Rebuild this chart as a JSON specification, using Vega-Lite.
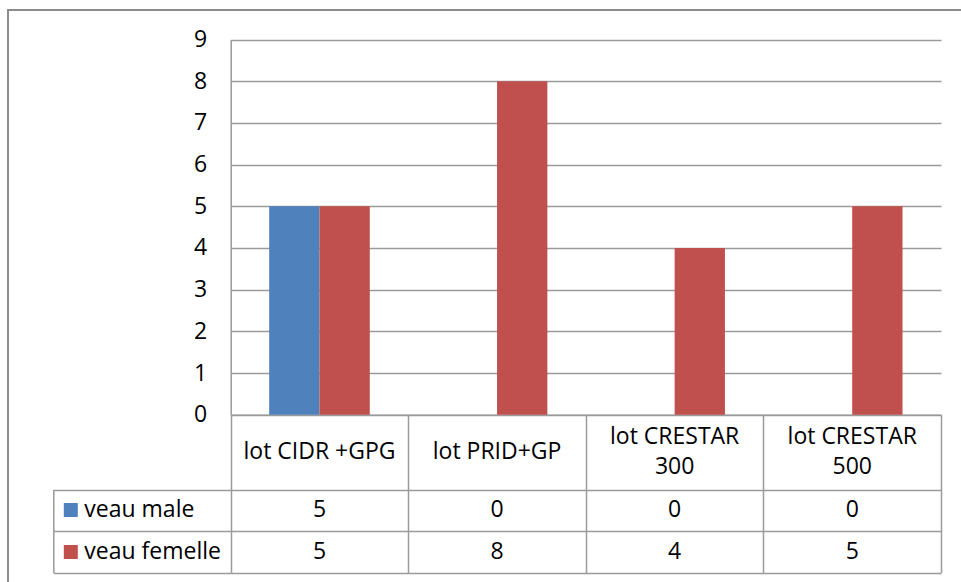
{
  "$schema": "https://vega.github.io/schema/vega-lite/v6.json",
  "width": 953,
  "height": 572,
  "autosize": "none",
  "padding": {"left": 8, "top": 10, "right": 0, "bottom": 0},
  "background": "white",
  "config": {
    "view": {"stroke": "#8c8c8c", "strokeWidth": 2, "strokeDash": [953, 1525]},
    "font": "Open Sans",
    "axis": {"domainColor": "#9a9a9a", "gridColor": "#9a9a9a", "tickColor": "#9a9a9a", "domainWidth": 1.5, "gridWidth": 1.5, "tickWidth": 1.5, "gridOpacity": 1, "labelColor": "#000000"}
  },
  "data": {
    "values": [
      {"cat": "lot CIDR +GPG", "series": "veau male", "value": 5},
      {"cat": "lot PRID+GP", "series": "veau male", "value": 0},
      {"cat": "lot CRESTAR 300", "series": "veau male", "value": 0},
      {"cat": "lot CRESTAR 500", "series": "veau male", "value": 0},
      {"cat": "lot CIDR +GPG", "series": "veau femelle", "value": 5},
      {"cat": "lot PRID+GP", "series": "veau femelle", "value": 8},
      {"cat": "lot CRESTAR 300", "series": "veau femelle", "value": 4},
      {"cat": "lot CRESTAR 500", "series": "veau femelle", "value": 5}
    ]
  },
  "resolve": {"scale": {"x": "independent", "y": "independent"}},
  "layer": [
    {
      "mark": {"type": "bar"},
      "encoding": {
        "x": {"field": "cat", "type": "nominal", "sort": null,
          "scale": {"domain": ["lot CIDR +GPG", "lot PRID+GP", "lot CRESTAR 300", "lot CRESTAR 500"], "range": [222.7, 933], "paddingInner": 0, "paddingOuter": 0},
          "axis": null},
        "xOffset": {"field": "series", "type": "nominal", "sort": null,
          "scale": {"domain": ["veau male", "veau femelle"], "paddingInner": 0, "paddingOuter": 0.765}},
        "y": {"field": "value", "type": "quantitative",
          "scale": {"domain": [0, 9], "range": [404.7, 29.5], "nice": false, "zero": true},
          "axis": {"orient": "left", "offset": -222.7, "values": [0, 1, 2, 3, 4, 5, 6, 7, 8, 9], "grid": true, "ticks": false, "domain": true, "labelPadding": 24, "labelFontSize": 23, "title": null}},
        "color": {"field": "series", "type": "nominal", "sort": null,
          "scale": {"domain": ["veau male", "veau femelle"], "range": ["#4F81BD", "#C0504D"]},
          "legend": {"orient": "none", "legendX": 51.3, "legendY": 488.5, "title": null, "direction": "vertical", "symbolType": "square", "symbolSize": 196, "symbolStrokeWidth": 0, "symbolOpacity": 1, "labelFontSize": 23, "labelOffset": 2, "rowPadding": 18, "padding": 0, "labelColor": "#000000"}}
      }
    },
    {
      "transform": [
        {"filter": "datum.series == 'veau male' && length(datum.cat) <= 13"}
      ],
      "mark": {"type": "text", "fontSize": 23, "baseline": "middle", "color": "#000000"},
      "encoding": {
        "x": {"field": "cat", "type": "nominal", "sort": null,
          "scale": {"domain": ["lot CIDR +GPG", "lot PRID+GP", "lot CRESTAR 300", "lot CRESTAR 500"], "range": [222.7, 933], "paddingInner": 0, "paddingOuter": 0},
          "axis": {"orient": "bottom", "offset": -167.3, "tickBand": "extent", "tickSize": 157.8, "labels": false, "domain": true, "ticks": true, "grid": false, "title": null}},
        "y": {"field": "series", "type": "nominal",
          "scale": {"domain": ["veau male"], "range": [404.7, 479.5], "paddingInner": 0, "paddingOuter": 0},
          "axis": null},
        "text": {"field": "cat", "type": "nominal"}
      }
    },
    {
      "transform": [
        {"filter": "datum.series == 'veau male' && length(datum.cat) > 13"},
        {"calculate": "[substring(datum.cat, 0, lastindexof(datum.cat, ' ')), substring(datum.cat, lastindexof(datum.cat, ' ') + 1)]", "as": "label"}
      ],
      "mark": {"type": "text", "fontSize": 23, "lineHeight": 30, "baseline": "middle", "dy": -15, "color": "#000000"},
      "encoding": {
        "x": {"field": "cat", "type": "nominal", "sort": null,
          "scale": {"domain": ["lot CIDR +GPG", "lot PRID+GP", "lot CRESTAR 300", "lot CRESTAR 500"], "range": [222.7, 933], "paddingInner": 0, "paddingOuter": 0},
          "axis": null},
        "y": {"field": "series", "type": "nominal",
          "scale": {"domain": ["veau male"], "range": [404.7, 479.5], "paddingInner": 0, "paddingOuter": 0},
          "axis": null},
        "text": {"field": "label", "type": "nominal"}
      }
    },
    {
      "mark": {"type": "text", "fontSize": 23, "baseline": "middle", "color": "#000000"},
      "encoding": {
        "x": {"field": "cat", "type": "nominal", "sort": null,
          "scale": {"domain": ["lot CIDR +GPG", "lot PRID+GP", "lot CRESTAR 300", "lot CRESTAR 500"], "range": [222.7, 933], "paddingInner": 0, "paddingOuter": 0},
          "axis": null},
        "y": {"field": "series", "type": "nominal", "sort": null,
          "scale": {"domain": ["veau male", "veau femelle"], "range": [479.5, 562.5], "paddingInner": 0, "paddingOuter": 0},
          "axis": {"orient": "left", "offset": -45.3, "tickBand": "extent", "tickSize": -177.4, "grid": true, "labels": false, "domain": true, "ticks": true, "title": null}},
        "text": {"field": "value", "type": "quantitative"}
      }
    }
  ]
}
